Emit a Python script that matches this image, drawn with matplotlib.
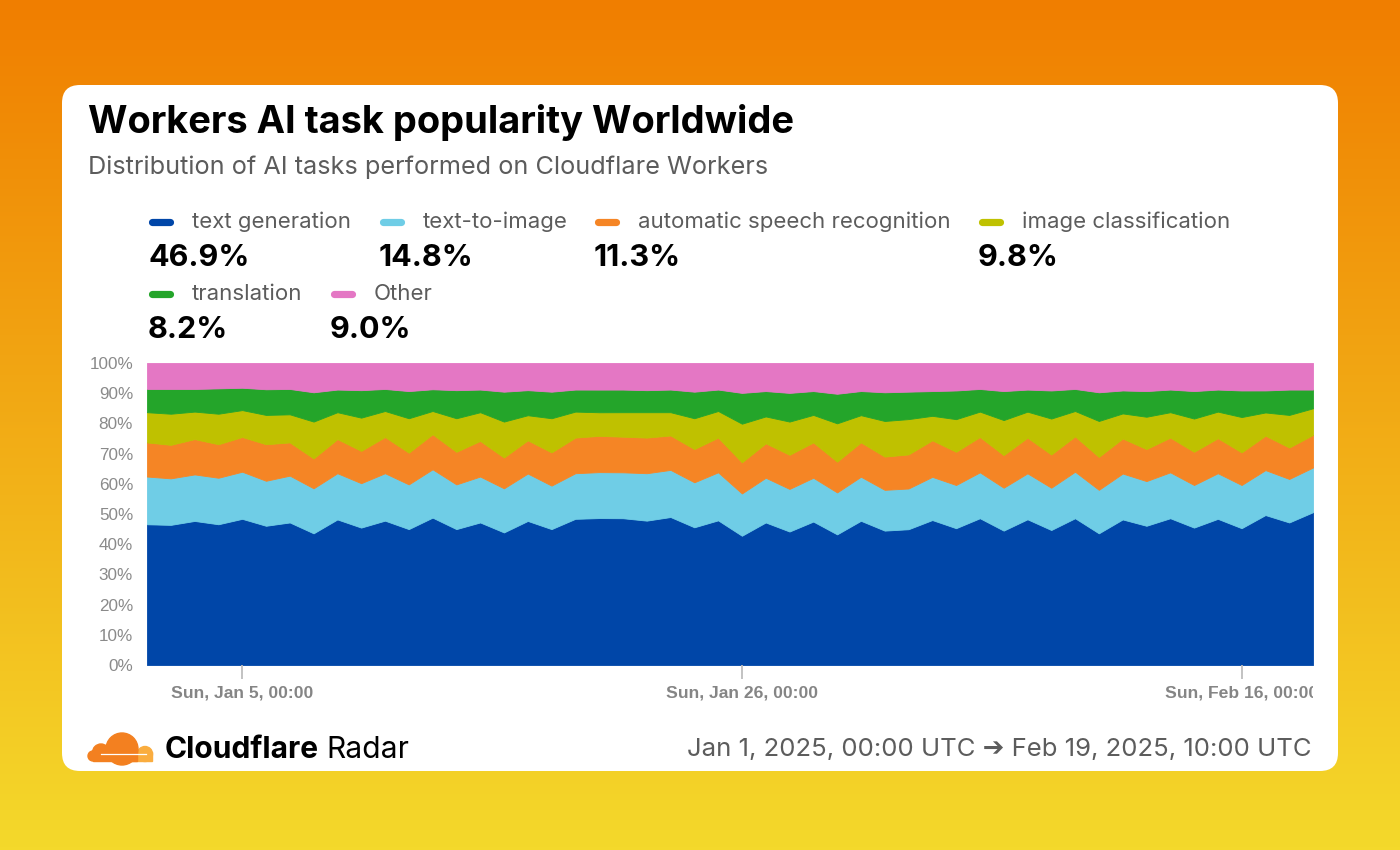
import matplotlib
matplotlib.use("Agg")
import matplotlib.pyplot as plt
import numpy as np
import pandas as pd
from matplotlib.colors import LinearSegmentedColormap
from matplotlib.patches import FancyBboxPatch, Circle, Rectangle
from matplotlib.transforms import Bbox, TransformedBbox

# ---------------------------------------------------------
# Data (daily shares in %)
# ---------------------------------------------------------

dates = pd.date_range("2025-01-01", periods=50, freq="D")

series_names = [
    "text generation",
    "text-to-image",
    "automatic speech recognition",
    "image classification",
    "translation",
    "Other",
]

text_generation = [
    46.6, 46.4, 47.7, 46.6, 48.4, 46.1, 47.2, 43.6, 48.2, 45.5,
    47.8, 45.0, 48.8, 45.0, 47.2, 43.9, 47.7, 45.0, 48.4, 48.6,
    48.6, 47.8, 49.0, 45.6, 47.9, 42.8, 47.2, 44.2, 47.5, 43.3,
    47.8, 44.5, 45.0, 48.0, 45.3, 48.6, 44.5, 48.2, 44.7, 48.6,
    43.6, 48.2, 46.1, 48.6, 45.5, 48.4, 45.3, 49.7, 47.2, 50.6,
]
text_to_image = [
    15.8, 15.4, 15.4, 15.4, 15.6, 14.9, 15.5, 14.9, 15.3, 14.7,
    15.7, 14.8, 16.0, 14.8, 15.2, 14.6, 15.7, 14.4, 15.1, 15.2,
    15.2, 15.7, 15.6, 14.9, 15.9, 14.0, 14.8, 14.1, 14.5, 13.9,
    14.6, 13.5, 13.5, 14.3, 14.3, 15.2, 14.2, 15.2, 14.0, 15.4,
    14.4, 15.2, 14.8, 15.2, 14.1, 15.1, 14.3, 14.9, 14.4, 14.8,
]
speech_recognition = [
    11.3, 11.1, 11.7, 11.1, 11.5, 12.1, 11.0, 9.9, 11.3, 10.7,
    12.0, 10.5, 11.6, 10.8, 11.8, 10.2, 11.0, 11.0, 11.8, 12.0,
    11.8, 11.8, 11.4, 11.0, 11.5, 10.3, 11.4, 11.3, 11.7, 10.2,
    11.4, 11.0, 11.3, 12.1, 11.0, 11.7, 10.8, 11.8, 11.0, 11.7,
    10.9, 11.6, 10.6, 11.5, 11.0, 11.6, 10.8, 11.4, 10.4, 10.8,
]
image_classification = [
    10.0, 10.3, 9.1, 10.1, 8.9, 9.7, 9.3, 12.2, 8.9, 11.0,
    8.6, 11.4, 7.7, 11.1, 9.5, 11.9, 8.3, 11.3, 8.6, 7.8,
    8.1, 8.4, 7.7, 10.2, 8.8, 12.8, 8.9, 11.0, 9.1, 12.7,
    9.0, 11.8, 11.7, 8.1, 10.8, 8.4, 11.6, 8.6, 11.9, 8.4,
    11.9, 8.3, 10.7, 8.4, 11.0, 8.8, 11.7, 7.7, 10.8, 8.8,
]
translation = [
    7.7, 8.2, 7.5, 8.4, 7.4, 8.5, 8.4, 9.7, 7.5, 9.1,
    7.3, 9.0, 7.2, 9.3, 7.5, 9.9, 8.3, 8.8, 7.3, 7.5,
    7.5, 7.3, 7.5, 8.8, 7.1, 10.2, 8.4, 9.5, 7.9, 9.8,
    8.0, 9.5, 9.1, 8.2, 9.5, 7.5, 9.6, 7.3, 9.3, 7.3,
    9.5, 7.6, 8.5, 7.5, 9.1, 7.3, 8.8, 7.3, 8.4, 6.2,
]
other = [
    8.6, 8.6, 8.6, 8.4, 8.2, 8.7, 8.6, 9.7, 8.8, 9.0,
    8.6, 9.3, 8.7, 9.0, 8.8, 9.5, 9.0, 9.5, 8.8, 8.8,
    8.8, 9.0, 8.8, 9.5, 8.8, 9.9, 9.3, 9.9, 9.3, 10.2,
    9.3, 9.7, 9.5, 9.3, 9.1, 8.6, 9.3, 8.8, 9.1, 8.6,
    9.7, 9.1, 9.3, 8.8, 9.3, 8.8, 9.1, 9.1, 8.8, 8.8,
]

# summary shares shown in the legend
legend_values = ["46.9%", "14.8%", "11.3%", "9.8%", "8.2%", "9.0%"]

tick_dates = pd.to_datetime(["2025-01-05", "2025-01-26", "2025-02-16"])

title = "Workers AI task popularity Worldwide"
subtitle = "Distribution of AI tasks performed on Cloudflare Workers"
range_text = "Jan 1, 2025, 00:00 UTC \u2794 Feb 19, 2025, 10:00 UTC"

# ---------------------------------------------------------
# Style
# ---------------------------------------------------------

colors = [
    "#0046A8",
    "#6FCDE6",
    "#F58525",
    "#BFC100",
    "#24A52A",
    "#E477C4",
]

UI_FONT = ["Inter", "DejaVu Sans"]
TICK_FONT = ["Liberation Sans", "DejaVu Sans"]

# normalise every day to 100 %
shares = np.array([
    text_generation,
    text_to_image,
    speech_recognition,
    image_classification,
    translation,
    other,
], dtype=float)
shares = shares / shares.sum(axis=0) * 100

# ---------------------------------------------------------
# Figure, background and card (pixel coordinates)
# ---------------------------------------------------------

fig = plt.figure(figsize=(14, 8.5), dpi=100)

bg = fig.add_axes([0, 0, 1, 1])
grad = np.linspace(0, 1, 256)[:, None]
cmap = LinearSegmentedColormap.from_list("bg", ["#F07E00", "#F4D92B"])
bg.imshow(grad, cmap=cmap, extent=(0, 1400, 850, 0), aspect="auto")
bg.set_xlim(0, 1400)
bg.set_ylim(850, 0)
bg.axis("off")

card = FancyBboxPatch(
    (62, 85), 1276, 686,
    boxstyle="round,pad=0,rounding_size=18",
    facecolor="white",
    edgecolor="none",
)
bg.add_patch(card)

# title block
bg.text(88, 133, title, fontsize=27.4, fontweight="bold", color="black",
        family=UI_FONT, va="baseline")
bg.text(88, 174, subtitle, fontsize=18.2, color="#5c5c5c",
        family=UI_FONT, va="baseline")

# legend
legend_slots = [
    (148, 228), (379, 228), (594, 228), (978, 228),
    (148, 300), (330, 300),
]
for ii, (name, (lx, ly)) in enumerate(zip(series_names, legend_slots)):
    bg.plot([lx + 3.5, lx + 21.5], [ly - 6, ly - 6], color=colors[ii],
            linewidth=5.2, solid_capstyle="round")
    bg.text(lx + 44, ly, name, fontsize=16, color="#5c5c5c",
            family=UI_FONT, va="baseline")
    bg.text(lx, ly + 38, legend_values[ii], fontsize=22, fontweight="bold",
            color="black", family=UI_FONT, va="baseline")

# footer: logo
logo_dark = "#F38020"
logo_light = "#FAAD3F"
bg.add_patch(Circle((145, 754), 7.5, color=logo_light))
bg.add_patch(Rectangle((128, 752), 24, 9, color=logo_light))
bg.add_patch(Circle((122, 749), 16, color=logo_dark))
bg.add_patch(Circle((101, 752.5), 8.5, color=logo_dark))
bg.add_patch(Circle((93, 756), 5, color=logo_dark))
bg.add_patch(Rectangle((93, 752), 44, 9, color=logo_dark))
bg.plot([101, 146], [753.5, 753.5], color="white", linewidth=0.9)

brand = bg.text(165, 758, "Cloudflare", fontsize=21.6, fontweight="bold",
                color="black", family=UI_FONT, va="baseline")
fig.canvas.draw()
brand_box = brand.get_window_extent()
bg.text(brand_box.x1 + 7, 758, "Radar", fontsize=21.6, color="black",
        family=UI_FONT, va="baseline")

bg.text(1312, 756, range_text, fontsize=18.5, color="#5c5c5c",
        family=UI_FONT, va="baseline", ha="right")

# ---------------------------------------------------------
# Stacked area chart
# ---------------------------------------------------------

ax = fig.add_axes([147 / 1400, 1 - 665 / 850, 1166 / 1400, 302 / 850])

ax.stackplot(dates, shares, colors=colors, edgecolor="face", linewidth=0.6)

ax.set_xlim(dates[0], dates[-1])
ax.set_ylim(0, 100)

ax.set_yticks(np.arange(0, 101, 10))
ax.set_yticklabels([f"{v}%" for v in range(0, 101, 10)],
                   family=TICK_FONT, fontsize=12.3, color="#8a8a8a")
ax.tick_params(axis="y", length=0, pad=10)

ax.set_xticks(tick_dates)
ax.set_xticklabels(
    [f"{d:%a}, {d:%b} {d.day}, {d:%H:%M}" for d in tick_dates],
    family=TICK_FONT, fontsize=12.6, fontweight="bold", color="#858585",
)
ax.tick_params(axis="x", length=10, width=1.3, color="#bdbdbd", pad=5)

for spine in ax.spines.values():
    spine.set_visible(False)

# the last label is cut at the right edge of the plot area
clip = TransformedBbox(Bbox([[-1, -1], [1, 1]]), ax.transAxes)
last_label = ax.get_xticklabels()[-1]
last_label.set_clip_box(clip)
last_label.set_clip_on(True)

fig.savefig("out.png", dpi=100)
